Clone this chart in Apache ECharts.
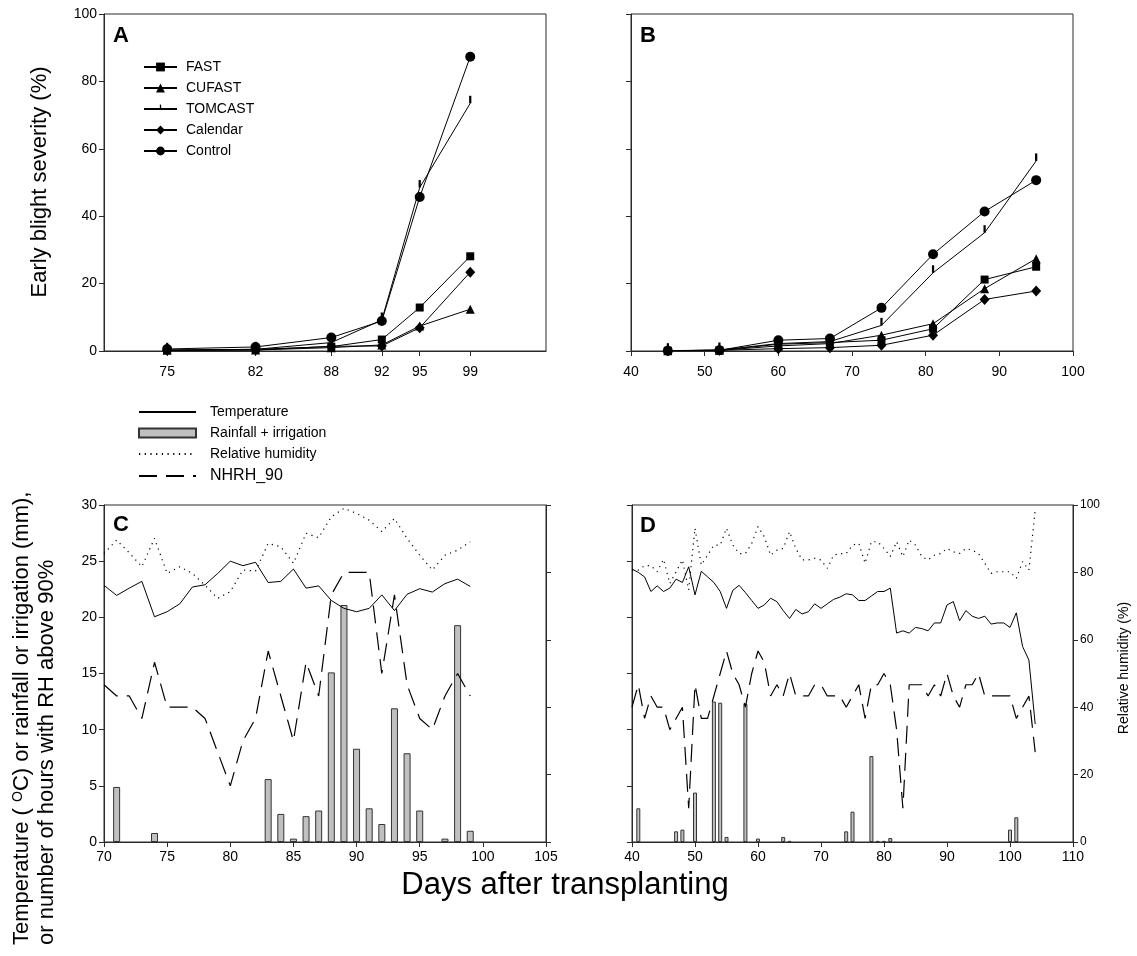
<!DOCTYPE html>
<html>
<head>
<meta charset="utf-8">
<script src="https://cdn.jsdelivr.net/npm/echarts@6/dist/echarts.min.js"></script>
<style>
html,body{margin:0;padding:0;background:#fff;}
#chart{width:1137px;height:956px;}
</style>
</head>
<body>
<div id="chart"></div>
<script>
// ---------- Panel A (disease severity, season 1) ----------
const daysA = [75, 82, 88, 92, 95, 99];
const fastA = [0.3, 0.5, 1.3, 3.4, 12.9, 28.1];
const cufastA = [0.2, 0.3, 1.0, 1.8, 7.4, 12.4];
const tomcastA = [0.2, 0.5, 2.5, 9.2, 48.5, 73.5];
const calendarA = [0.2, 0.3, 1.4, 1.5, 6.9, 23.4];
const controlA = [0.6, 1.2, 4.0, 8.9, 45.7, 87.3];
const tickDaysA = [75, 82, 88, 92, 95, 99];

// ---------- Panel B (disease severity, season 2) ----------
const daysB = [45, 52, 60, 67, 74, 81, 88, 95];
const fastB = [0.1, 0.2, 2.0, 2.5, 3.2, 6.6, 21.2, 25.0];
const cufastB = [0.1, 0.2, 1.5, 2.2, 4.7, 8.1, 18.5, 27.4];
const tomcastB = [0.1, 0.3, 2.2, 2.8, 7.6, 23.2, 35.1, 56.4];
const calendarB = [0.1, 0.2, 0.7, 1.0, 1.7, 4.7, 15.3, 17.8];
const controlB = [0.1, 0.2, 3.2, 3.7, 12.8, 28.7, 41.4, 50.7];

// ---------- Panel C (weather, season 1) ----------
const daysC = [70, 71, 72, 73, 74, 75, 76, 77, 78, 79, 80, 81, 82, 83, 84, 85, 86, 87, 88, 89, 90, 91, 92, 93, 94, 95, 96, 97, 98, 99];
const tempC = [22.85, 21.95, 22.6, 23.2, 20.05, 20.5, 21.2, 22.7, 22.9, 23.9, 25.0, 24.6, 24.9, 23.1, 23.2, 24.3, 22.6, 22.8, 21.5, 20.8, 20.5, 20.8, 22.0, 20.6, 22.05, 22.55, 22.25, 23.0, 23.4, 22.75];
const rhC = [85.6, 89.6, 85.8, 81.7, 90.1, 79.7, 81.7, 79.7, 76.2, 72.3, 74.3, 80.7, 80.4, 88.6, 87.6, 82.7, 91.6, 90.3, 96.5, 99.0, 97.5, 95.5, 92.1, 96.0, 90.1, 85.1, 80.7, 85.1, 86.6, 89.1];
const nhrhC = [14, 13, 13, 11, 16, 12, 12, 12, 11, 8, 5, 9, 11, 17, 13, 9, 16, 13, 22, 24, 24, 24, 15, 22, 14, 11, 10, 13, 15, 13];
const rainDaysC = [71, 74, 83, 84, 85, 86, 87, 88, 89, 90, 91, 92, 93, 94, 95, 97, 98, 99];
const rainC = [4.9, 0.8, 5.6, 2.5, 0.3, 2.3, 2.8, 15.1, 21.1, 8.3, 3.0, 1.6, 11.9, 7.9, 2.8, 0.3, 19.3, 1.0];

// ---------- Panel D (weather, season 2) ----------
const daysD = [40, 41, 42, 43, 44, 45, 46, 47, 48, 49, 50, 51, 52, 53, 54, 55, 56, 57, 58, 59, 60, 61, 62, 63, 64, 65, 66, 67, 68, 69, 70, 71, 72, 73, 74, 75, 76, 77, 78, 79, 80, 81, 82, 83, 84, 85, 86, 87, 88, 89, 90, 91, 92, 93, 94, 95, 96, 97, 98, 99, 100, 101, 102, 103, 104];
const tempD = [24.3, 24.0, 23.6, 22.3, 22.8, 22.3, 22.6, 23.4, 23.1, 24.5, 22.0, 24.1, 23.6, 23.1, 22.3, 20.8, 22.4, 22.85, 22.2, 21.5, 20.8, 21.1, 21.7, 21.4, 20.6, 19.9, 20.7, 20.3, 20.5, 21.2, 20.8, 21.2, 21.6, 21.8, 22.1, 22.0, 21.5, 21.5, 21.9, 22.3, 22.3, 22.6, 18.6, 18.8, 18.6, 19.1, 19.0, 18.8, 19.5, 19.5, 21.1, 21.4, 19.7, 20.6, 20.1, 19.9, 20.1, 19.4, 19.5, 19.5, 19.1, 20.4, 17.4, 16.2, 10.5];
const rhD = [80.7, 80.7, 82.0, 82.0, 80.2, 83.9, 76.7, 80.2, 83.7, 74.8, 93.1, 82.2, 85.1, 88.1, 88.1, 93.1, 88.1, 85.6, 85.6, 88.6, 93.6, 90.6, 85.1, 86.6, 87.1, 92.1, 87.1, 83.7, 83.7, 84.2, 83.7, 81.2, 85.1, 85.6, 85.6, 88.1, 88.6, 82.7, 89.1, 89.1, 87.1, 84.7, 89.1, 84.7, 89.6, 88.1, 84.7, 83.7, 85.1, 85.6, 87.1, 86.1, 85.6, 87.1, 86.6, 85.6, 82.7, 79.7, 80.2, 80.2, 80.2, 78.2, 83.2, 80.7, 98.5];
const nhrhD = [12, 14, 11, 13, 12, 12, 10, 11, 12, 3, 14, 11, 11, 13, 15, 17, 15, 14, 12, 15, 17, 16, 13, 14, 13, 15, 13, 13, 13, 14, 14, 13, 13, 13, 12, 13, 14, 11, 14, 14, 15, 14, 10, 3, 14, 14, 14, 13, 14, 13, 15, 13, 12, 14, 14, 15, 13, 13, 13, 13, 13, 11, 12, 13, 8];
const rainDaysD = [41, 47, 48, 50, 53, 54, 55, 58, 60, 64, 65, 74, 75, 78, 79, 80, 81, 100, 101];
const rainD = [3.0, 0.95, 1.1, 4.4, 12.5, 12.4, 0.45, 12.3, 0.3, 0.45, 0.1, 0.95, 2.7, 7.65, 0.1, 0.1, 0.35, 1.1, 2.2];

// ---------- helpers / styles ----------
const FONT = '"Liberation Sans", Arial, Helvetica, sans-serif';
const INK = '#000';
const AX = '#2a2a2a';
function zip(xs, ys) { return xs.map((x, i) => [x, ys[i]]); }

// vertical tick sitting on top of the data point, inside a square box
const tomcastSymbol = 'path://M8.5,0 L11.5,0 L11.5,10 L8.5,10 Z M0,20 L0,20 M20,20 L20,20';

function xAx(grid, min, max, interval, margin, extra) {
  return Object.assign({
    type: 'value', gridIndex: grid, min: min, max: max, interval: interval,
    axisLine: { show: true, onZero: false, lineStyle: { color: AX, width: 1 } },
    axisTick: { show: true, length: 5, lineStyle: { color: AX } },
    axisLabel: { show: true, color: INK, fontSize: 14, fontFamily: FONT, margin: margin },
    splitLine: { show: false }
  }, extra || {});
}
function yAx(grid, min, max, interval, pos, showLabel, fontSize) {
  return {
    type: 'value', gridIndex: grid, min: min, max: max, interval: interval, position: pos,
    axisLine: { show: true, lineStyle: { color: AX, width: 1 } },
    axisTick: { show: true, length: 5, lineStyle: { color: AX } },
    axisLabel: { show: showLabel, color: INK, fontSize: fontSize || 14, fontFamily: FONT, margin: 7 },
    splitLine: { show: false }
  };
}

function severity(name, xi, days, vals, symbol, size) {
  return {
    name: name, type: 'line', xAxisIndex: xi, yAxisIndex: xi,
    data: zip(days, vals), symbol: symbol, symbolSize: size,
    showSymbol: true, z: 3, symbolKeepAspect: false,
    lineStyle: { color: INK, width: 1 },
    itemStyle: { color: INK, borderWidth: 0 },
    emphasis: { disabled: true }
  };
}

function weather(xi, yLeft, yRight, days, temp, rh, nhrh, rainDays, rain, barW) {
  return [
    { name: 'Rainfall + irrigation', type: 'bar', xAxisIndex: xi, yAxisIndex: yLeft,
      data: zip(rainDays, rain), barWidth: barW, z: 1,
      itemStyle: { color: '#c0c0c0', borderColor: '#333', borderWidth: 1 },
      emphasis: { disabled: true } },
    { name: 'Temperature', type: 'line', xAxisIndex: xi, yAxisIndex: yLeft,
      data: zip(days, temp), symbol: 'none', z: 2,
      lineStyle: { color: INK, width: 1 }, itemStyle: { color: INK },
      emphasis: { disabled: true } },
    { name: 'Relative humidity', type: 'line', xAxisIndex: xi, yAxisIndex: yRight,
      data: zip(days, rh), symbol: 'none', z: 2,
      lineStyle: { color: INK, width: 1.2, type: [1.2, 4.5] }, itemStyle: { color: INK },
      emphasis: { disabled: true } },
    { name: 'NHRH_90', type: 'line', xAxisIndex: xi, yAxisIndex: yLeft,
      data: zip(days, nhrh), symbol: 'none', z: 2,
      lineStyle: { color: INK, width: 1.2, type: [18, 9] }, itemStyle: { color: INK },
      emphasis: { disabled: true } }
  ];
}

const gridStyle = { show: true, borderColor: AX, borderWidth: 1, backgroundColor: 'transparent' };

const option = {
  animation: false,
  backgroundColor: '#fff',
  textStyle: { fontFamily: FONT },
  grid: [
    Object.assign({ left: 104, top: 14, width: 442, height: 337 }, gridStyle),
    Object.assign({ left: 631, top: 14, width: 442, height: 337 }, gridStyle),
    Object.assign({ left: 104, top: 505, width: 442, height: 337 }, gridStyle),
    Object.assign({ left: 632, top: 505, width: 441, height: 337 }, gridStyle)
  ],
  xAxis: [
    xAx(0, 70, 105, 5, 14, {
      axisTick: { show: true, length: 5, lineStyle: { color: AX }, customValues: tickDaysA },
      axisLabel: { show: true, color: INK, fontSize: 14, fontFamily: FONT, margin: 14, customValues: tickDaysA }
    }),
    xAx(1, 40, 100, 10, 14),
    xAx(2, 70, 105, 5, 8),
    xAx(3, 40, 110, 10, 8)
  ],
  yAxis: [
    yAx(0, 0, 100, 20, 'left', true, 14),
    yAx(1, 0, 100, 20, 'left', false),
    yAx(2, 0, 30, 5, 'left', true, 14),
    yAx(2, 0, 100, 20, 'right', false),
    yAx(3, 0, 30, 5, 'left', false),
    yAx(3, 0, 100, 20, 'right', true, 12)
  ],
  legend: [
    {
      data: ['FAST', 'CUFAST', 'TOMCAST', 'Calendar', 'Control'],
      orient: 'vertical', left: 143, top: 60, padding: 0,
      itemWidth: 33, itemHeight: 11, itemGap: 7,
      selectedMode: false,
      textStyle: { color: INK, fontSize: 14, fontFamily: FONT, padding: [0, 0, 0, 4] }
    },
    {
      data: [
        { name: 'Temperature', itemStyle: { opacity: 0 } },
        { name: 'Rainfall + irrigation', icon: 'rect' },
        { name: 'Relative humidity', itemStyle: { opacity: 0 } },
        { name: 'NHRH_90', itemStyle: { opacity: 0 }, textStyle: { fontSize: 16 } }
      ],
      orient: 'vertical', left: 138, top: 405, padding: 0,
      itemWidth: 57, itemHeight: 9, itemGap: 7,
      selectedMode: false,
      textStyle: { color: INK, fontSize: 14, fontFamily: FONT, padding: [0, 0, 0, 9] }
    }
  ],
  series: [
    severity('FAST', 0, daysA, fastA, 'rect', 8),
    severity('CUFAST', 0, daysA, cufastA, 'triangle', 9),
    severity('TOMCAST', 0, daysA, tomcastA, tomcastSymbol, 15),
    severity('Calendar', 0, daysA, calendarA, 'diamond', [10, 11]),
    severity('Control', 0, daysA, controlA, 'circle', 10),
    severity('FAST', 1, daysB, fastB, 'rect', 8),
    severity('CUFAST', 1, daysB, cufastB, 'triangle', 9),
    severity('TOMCAST', 1, daysB, tomcastB, tomcastSymbol, 15),
    severity('Calendar', 1, daysB, calendarB, 'diamond', [10, 11]),
    severity('Control', 1, daysB, controlB, 'circle', 10)
  ].concat(
    weather(2, 2, 3, daysC, tempC, rhC, nhrhC, rainDaysC, rainC, 7),
    weather(3, 4, 5, daysD, tempD, rhD, nhrhD, rainDaysD, rainD, 4)
  ),
  graphic: {
    elements: [
      { type: 'text', x: 113, y: 36, style: { text: 'A', font: 'bold 22px ' + FONT, fill: INK, verticalAlign: 'middle' } },
      { type: 'text', x: 640, y: 36, style: { text: 'B', font: 'bold 22px ' + FONT, fill: INK, verticalAlign: 'middle' } },
      { type: 'text', x: 113, y: 525, style: { text: 'C', font: 'bold 22px ' + FONT, fill: INK, verticalAlign: 'middle' } },
      { type: 'text', x: 640, y: 526, style: { text: 'D', font: 'bold 22px ' + FONT, fill: INK, verticalAlign: 'middle' } },
      { type: 'text', x: 40, y: 182, rotation: Math.PI / 2,
        style: { text: 'Early blight severity (%)', font: '22px ' + FONT, fill: INK, align: 'center', verticalAlign: 'middle' } },
      { type: 'text', x: 22, y: 945, rotation: Math.PI / 2,
        style: {
          text: '{a|Temperature ( }{s|O}{a|C) or rainfall or irrigation (mm),}',
          font: '22px ' + FONT, fill: INK, align: 'left', verticalAlign: 'middle',
          rich: {
            a: { fontSize: 22, fontFamily: FONT, fill: INK },
            s: { fontSize: 14, fontFamily: FONT, fill: INK, verticalAlign: 'top' }
          }
        } },
      { type: 'text', x: 47, y: 945, rotation: Math.PI / 2,
        style: { text: 'or number of hours with RH above 90%', font: '22px ' + FONT, fill: INK, align: 'left', verticalAlign: 'middle' } },
      { type: 'text', x: 565, y: 885,
        style: { text: 'Days after transplanting', font: '31px ' + FONT, fill: INK, align: 'center', verticalAlign: 'middle' } },
      { type: 'text', x: 1124, y: 668, rotation: Math.PI / 2,
        style: { text: 'Relative humidity (%)', font: '14px ' + FONT, fill: INK, align: 'center', verticalAlign: 'middle' } }
    ]
  }
};

const chart = echarts.init(document.getElementById('chart'), null, { renderer: 'canvas' });
chart.setOption(option);
</script>
</body>
</html>
